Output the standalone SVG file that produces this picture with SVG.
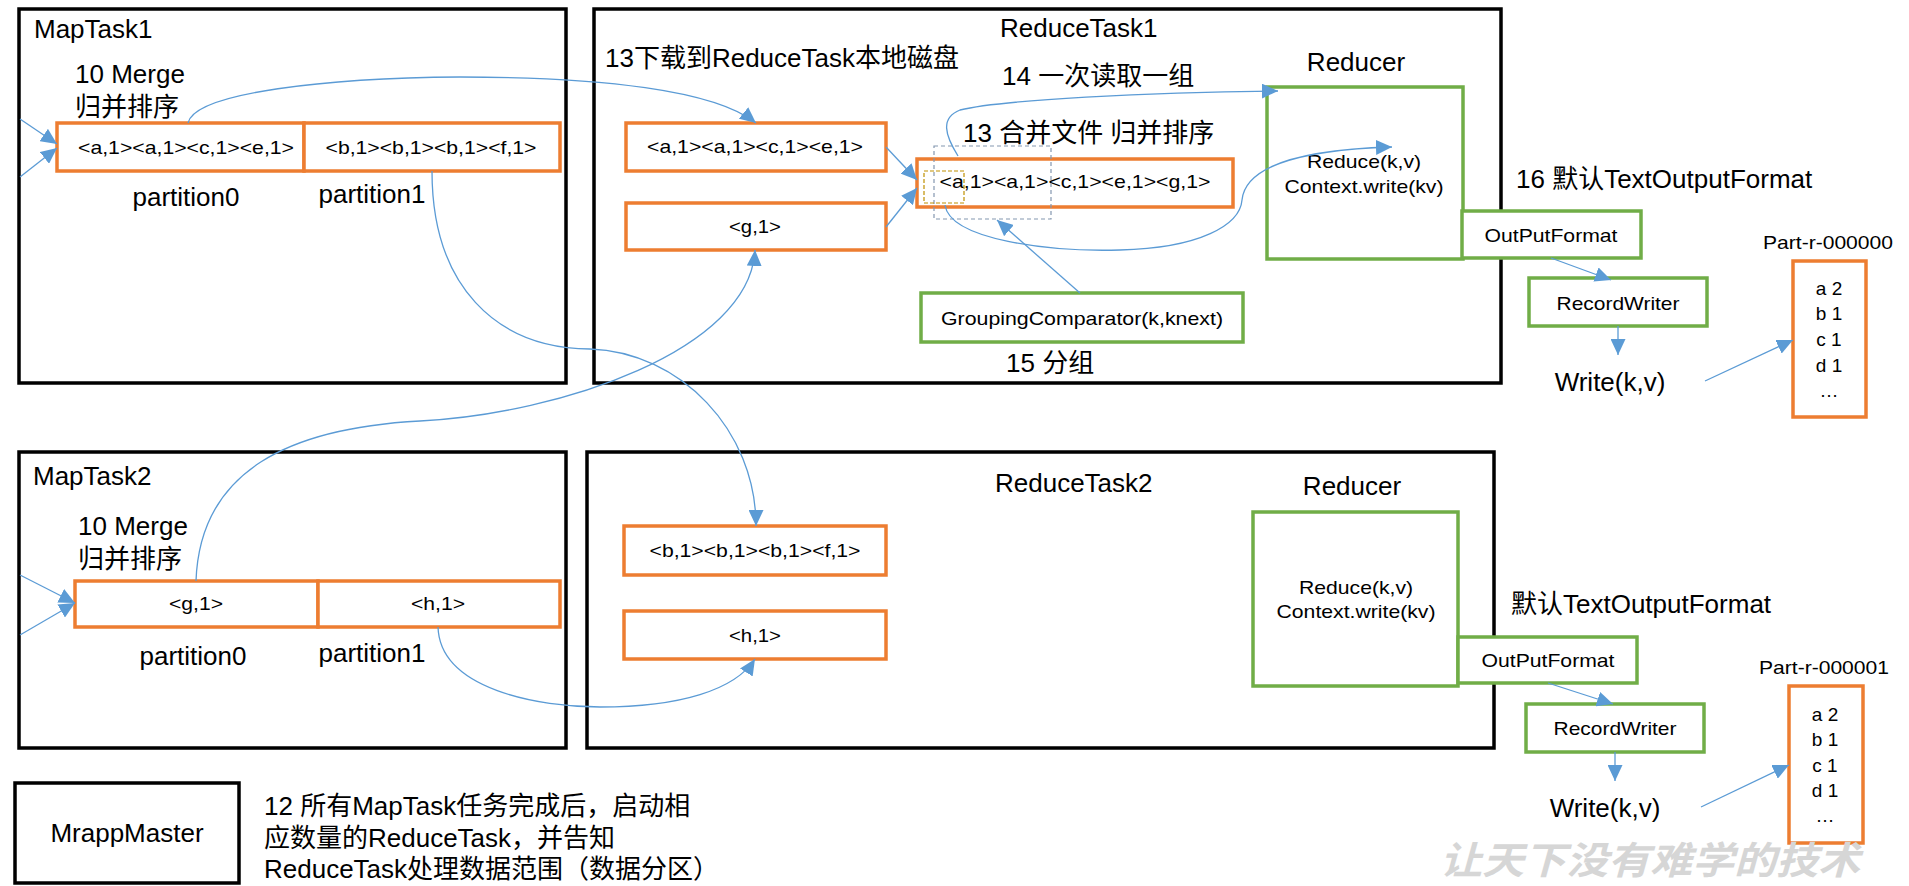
<svg xmlns="http://www.w3.org/2000/svg" width="1909" height="886" viewBox="0 0 1909 886">
<style>
text{font-family:"Liberation Sans","Noto Sans CJK SC",sans-serif;fill:#000}
.big{font-size:26px}
.sm{font-size:19px}
.mid{text-anchor:middle}
.blk{fill:#fff;stroke:#000;stroke-width:3.5}
.org{fill:#fff;stroke:#ed7d31;stroke-width:3.5}
.grn{fill:#fff;stroke:#70ad47;stroke-width:3.5}
.con{fill:none;stroke:#5b9bd5;stroke-width:1.3}
.arr{marker-end:url(#ah)}
</style>
<defs>
<marker id="ah" markerUnits="userSpaceOnUse" markerWidth="17" markerHeight="15" refX="16" refY="7.5" orient="auto">
<path d="M0,0 L16,7.5 L0,15 Z" fill="#5b9bd5"/>
</marker>
</defs>
<rect width="1909" height="886" fill="#fff"/>

<g id="maptask1">
<rect class="blk" x="19" y="9" width="547" height="374"/>
<text class="big" x="34" y="38">MapTask1</text>
<text class="big" x="75" y="83">10 Merge</text>
<text class="big" x="75" y="116">归并排序</text>
<rect class="org" x="57" y="123" width="247" height="48"/>
<rect class="org" x="304" y="123" width="256" height="48"/>
<text class="sm mid" x="186" y="154" textLength="216" lengthAdjust="spacingAndGlyphs">&lt;a,1&gt;&lt;a,1&gt;&lt;c,1&gt;&lt;e,1&gt;</text>
<text class="sm mid" x="431" y="154" textLength="211" lengthAdjust="spacingAndGlyphs">&lt;b,1&gt;&lt;b,1&gt;&lt;b,1&gt;&lt;f,1&gt;</text>
<text class="big mid" x="186" y="206">partition0</text>
<text class="big mid" x="372" y="203">partition1</text>
</g>

<g id="maptask2">
<rect class="blk" x="19" y="452" width="547" height="296"/>
<text class="big" x="33" y="485">MapTask2</text>
<text class="big" x="78" y="535">10 Merge</text>
<text class="big" x="78" y="568">归并排序</text>
<rect class="org" x="75" y="581" width="243" height="46"/>
<rect class="org" x="318" y="581" width="242" height="46"/>
<text class="sm mid" x="196" y="610" textLength="54" lengthAdjust="spacingAndGlyphs">&lt;g,1&gt;</text>
<text class="sm mid" x="438" y="610" textLength="54" lengthAdjust="spacingAndGlyphs">&lt;h,1&gt;</text>
<text class="big mid" x="193" y="665">partition0</text>
<text class="big mid" x="372" y="662">partition1</text>
</g>

<g id="reducetask1">
<rect class="blk" x="594" y="9" width="907" height="374"/>
<text class="big" x="1000" y="37">ReduceTask1</text>
<text class="big" x="605" y="67">13下载到ReduceTask本地磁盘</text>
<text class="big" x="1002" y="85">14 一次读取一组</text>
<text class="big" x="963" y="142">13 合并文件 归并排序</text>
<text class="big" x="1006" y="372">15 分组</text>
</g>

<g id="boxA">
<rect class="org" x="626" y="123" width="260" height="48"/>
<text class="sm mid" x="755" y="153" textLength="216" lengthAdjust="spacingAndGlyphs">&lt;a,1&gt;&lt;a,1&gt;&lt;c,1&gt;&lt;e,1&gt;</text>
</g>
<g id="boxG">
<rect class="org" x="626" y="203" width="260" height="47"/>
<text class="sm mid" x="755" y="233" textLength="52" lengthAdjust="spacingAndGlyphs">&lt;g,1&gt;</text>
</g>
<g id="merged">
<rect class="org" x="917" y="159" width="316" height="48"/>
<text class="sm mid" x="1075" y="188" textLength="271" lengthAdjust="spacingAndGlyphs">&lt;a,1&gt;&lt;a,1&gt;&lt;c,1&gt;&lt;e,1&gt;&lt;g,1&gt;</text>
<rect x="934" y="146" width="117" height="73" fill="none" stroke="#8497b0" stroke-width="1.2" stroke-dasharray="4 3"/>
<rect x="924" y="171" width="40" height="32" fill="none" stroke="#bf9000" stroke-width="1.2" stroke-dasharray="4 2"/>
</g>
<g id="grouping">
<rect class="grn" x="921" y="293" width="322" height="49"/>
<text class="sm mid" x="1082" y="325" textLength="282" lengthAdjust="spacingAndGlyphs">GroupingComparator(k,knext)</text>
</g>

<g id="reducer1">
<text class="big mid" x="1356" y="71">Reducer</text>
<rect class="grn" x="1267" y="87" width="196" height="172"/>
<text class="sm mid" x="1364" y="168" textLength="114" lengthAdjust="spacingAndGlyphs">Reduce(k,v)</text>
<text class="sm mid" x="1364" y="193" textLength="159" lengthAdjust="spacingAndGlyphs">Context.write(kv)</text>
</g>
<g id="outputformat1">
<rect class="grn" x="1462" y="211" width="179" height="47"/>
<text class="sm mid" x="1551" y="242" textLength="133" lengthAdjust="spacingAndGlyphs">OutPutFormat</text>
</g>
<text class="big" x="1516" y="188">16 默认TextOutputFormat</text>
<g id="recordwriter1">
<rect class="grn" x="1529" y="278" width="178" height="48"/>
<text class="sm mid" x="1618" y="310" textLength="123" lengthAdjust="spacingAndGlyphs">RecordWriter</text>
</g>
<g id="write1">
<text class="big mid" x="1610" y="391">Write(k,v)</text>
</g>
<g id="part0">
<text class="sm mid" x="1828" y="249" textLength="130" lengthAdjust="spacingAndGlyphs">Part-r-000000</text>
<rect class="org" x="1793" y="261" width="73" height="156"/>
<text class="sm mid" x="1829" y="295">a 2</text>
<text class="sm mid" x="1829" y="320">b 1</text>
<text class="sm mid" x="1829" y="346">c 1</text>
<text class="sm mid" x="1829" y="372">d 1</text>
<text class="sm mid" x="1829" y="397">…</text>
</g>

<g id="reducetask2">
<rect class="blk" x="587" y="452" width="907" height="296"/>
<text class="big" x="995" y="492">ReduceTask2</text>
</g>
<g id="boxB">
<rect class="org" x="624" y="526" width="262" height="49"/>
<text class="sm mid" x="755" y="557" textLength="211" lengthAdjust="spacingAndGlyphs">&lt;b,1&gt;&lt;b,1&gt;&lt;b,1&gt;&lt;f,1&gt;</text>
</g>
<g id="boxH">
<rect class="org" x="624" y="611" width="262" height="48"/>
<text class="sm mid" x="755" y="642" textLength="52" lengthAdjust="spacingAndGlyphs">&lt;h,1&gt;</text>
</g>
<g id="reducer2">
<text class="big mid" x="1352" y="495">Reducer</text>
<rect class="grn" x="1253" y="512" width="205" height="174"/>
<text class="sm mid" x="1356" y="594" textLength="114" lengthAdjust="spacingAndGlyphs">Reduce(k,v)</text>
<text class="sm mid" x="1356" y="618" textLength="159" lengthAdjust="spacingAndGlyphs">Context.write(kv)</text>
</g>
<g id="outputformat2">
<rect class="grn" x="1458" y="637" width="179" height="46"/>
<text class="sm mid" x="1548" y="667" textLength="133" lengthAdjust="spacingAndGlyphs">OutPutFormat</text>
</g>
<text class="big" x="1511" y="613">默认TextOutputFormat</text>
<g id="recordwriter2">
<rect class="grn" x="1526" y="704" width="178" height="48"/>
<text class="sm mid" x="1615" y="735" textLength="123" lengthAdjust="spacingAndGlyphs">RecordWriter</text>
</g>
<g id="write2">
<text class="big mid" x="1605" y="817">Write(k,v)</text>
</g>
<g id="part1">
<text class="sm mid" x="1824" y="674" textLength="130" lengthAdjust="spacingAndGlyphs">Part-r-000001</text>
<rect class="org" x="1789" y="686" width="74" height="157"/>
<text class="sm mid" x="1825" y="721">a 2</text>
<text class="sm mid" x="1825" y="746">b 1</text>
<text class="sm mid" x="1825" y="772">c 1</text>
<text class="sm mid" x="1825" y="797">d 1</text>
<text class="sm mid" x="1825" y="822">…</text>
</g>

<g id="mrappmaster">
<rect class="blk" x="15" y="783" width="224" height="100"/>
<text class="big mid" x="127" y="842">MrappMaster</text>
</g>
<g id="note12">
<text class="big" x="264" y="815">12 所有MapTask任务完成后，启动相</text>
<text class="big" x="264" y="847">应数量的ReduceTask，并告知</text>
<text class="big" x="264" y="878">ReduceTask处理数据范围（数据分区）</text>
</g>
<text x="1440" y="874" font-size="38" textLength="420" lengthAdjust="spacingAndGlyphs" style="fill:#d6d6d6;font-family:'Noto Sans CJK SC',sans-serif;font-style:italic;font-weight:bold">让天下没有难学的技术</text>

<g id="connectors">
<path class="con arr" d="M20,119 L57,144"/>
<path class="con arr" d="M20,177 L57,148"/>
<path class="con arr" d="M20,575 L75,603"/>
<path class="con arr" d="M20,635 L75,603"/>
<path class="con arr" d="M188,123 C195,92 330,78 460,77 C600,77 715,90 756,123"/>
<path class="con arr" d="M432,171 C432,285 495,348 590,349 C680,352 756,430 756,526"/>
<path class="con arr" d="M196,581 C200,470 290,428 420,421 C560,414 750,350 755,250"/>
<path class="con arr" d="M438,627 C440,690 540,707 600,707 C680,707 735,690 755,659"/>
<path class="con arr" d="M886,147 L917,180"/>
<path class="con arr" d="M886,227 L917,188"/>
<path class="con arr" d="M1080,293 L997,220"/>
<path class="con arr" d="M958,156 C945,135 940,118 960,110 C1000,100 1150,92 1278,91"/>
<path class="con arr" d="M945,205 C950,240 1050,252 1120,250 C1200,248 1240,225 1242,200 C1245,170 1290,150 1392,147"/>
<path class="con arr" d="M1551,258 L1611,280"/>
<path class="con arr" d="M1618,326 L1618,355"/>
<path class="con arr" d="M1705,381 L1793,340"/>
<path class="con arr" d="M1548,683 L1613,704"/>
<path class="con arr" d="M1615,752 L1615,781"/>
<path class="con arr" d="M1701,807 L1789,765"/>
</g>
</svg>
